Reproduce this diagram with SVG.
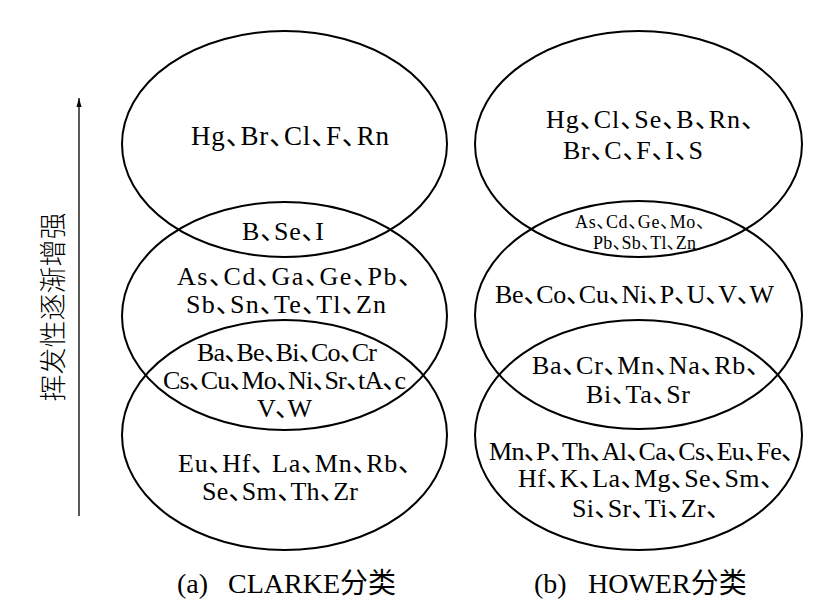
<svg xmlns="http://www.w3.org/2000/svg" width="830" height="613" viewBox="0 0 830 613">
<style>
.e{fill:none;stroke:#000;stroke-width:2}
.t{font-family:"Liberation Serif","Times New Roman",Times,"DejaVu Serif","Noto Sans CJK SC",serif;font-size:26px;fill:#000}
.s{font-size:18px}
.cap{font-size:28px}
.c{letter-spacing:-13px}
.s .c{letter-spacing:-9px}
.v{font-family:"Noto Sans CJK SC","Noto Sans CJK JP",sans-serif;font-size:27px;font-weight:300;fill:#000}
.ax{stroke:#000;stroke-width:1.3;fill:none}
</style>
<defs>
<marker id="ah" viewBox="0 0 10 10" refX="10" refY="5" markerWidth="9" markerHeight="9" markerUnits="userSpaceOnUse" orient="auto">
<path d="M0,2.2 L10,5 L0,7.8 Z" fill="#000"/>
</marker>
</defs>
<rect width="830" height="613" fill="#fff"/>

<g id="connectors">
<line class="ax" x1="79" y1="516" x2="79" y2="98" marker-end="url(#ah)"/>
</g>
<g id="axis-label">
<text class="v" transform="translate(63,307) rotate(-90)" text-anchor="middle">挥发性逐渐增强</text>
</g>

<g id="clarke-top"><ellipse class="e" cx="284.5" cy="144" rx="162.5" ry="113"/></g>
<g id="clarke-mid"><ellipse class="e" cx="284.5" cy="316" rx="162.5" ry="114"/></g>
<g id="clarke-bot"><ellipse class="e" cx="284.5" cy="435" rx="162.5" ry="115"/></g>
<g id="hower-top"><ellipse class="e" cx="638.5" cy="144" rx="163.5" ry="113"/></g>
<g id="hower-mid"><ellipse class="e" cx="638.5" cy="315" rx="163.5" ry="114"/></g>
<g id="hower-bot"><ellipse class="e" cx="638.5" cy="435" rx="163.5" ry="115"/></g>

<g id="clarke-labels" class="t" font-family="Liberation Serif, Times New Roman, DejaVu Serif, Noto Sans CJK SC, serif">
<text x="191" y="145" textLength="198" style="font-size:27px">Hg<tspan class="c">、</tspan>Br<tspan class="c">、</tspan>Cl<tspan class="c">、</tspan>F<tspan class="c">、</tspan>Rn</text>
<text x="242" y="240" textLength="82">B<tspan class="c">、</tspan>Se<tspan class="c">、</tspan>I</text>
<text x="177" y="285" textLength="234">As<tspan class="c">、</tspan>Cd<tspan class="c">、</tspan>Ga<tspan class="c">、</tspan>Ge<tspan class="c">、</tspan>Pb<tspan class="c">、</tspan></text>
<text x="186" y="313" textLength="200">Sb<tspan class="c">、</tspan>Sn<tspan class="c">、</tspan>Te<tspan class="c">、</tspan>Tl<tspan class="c">、</tspan>Zn</text>
<text x="197" y="361" textLength="180">Ba<tspan class="c">、</tspan>Be<tspan class="c">、</tspan>Bi<tspan class="c">、</tspan>Co<tspan class="c">、</tspan>Cr</text>
<text x="163" y="389" textLength="243">Cs<tspan class="c">、</tspan>Cu<tspan class="c">、</tspan>Mo<tspan class="c">、</tspan>Ni<tspan class="c">、</tspan>Sr<tspan class="c">、</tspan>tA<tspan class="c">、</tspan>c</text>
<text x="257" y="417" textLength="55">V<tspan class="c">、</tspan>W</text>
<text x="178" y="472" textLength="233">Eu<tspan class="c">、</tspan>Hf<tspan class="c">、</tspan> La<tspan class="c">、</tspan>Mn<tspan class="c">、</tspan>Rb<tspan class="c">、</tspan></text>
<text x="202" y="500" textLength="156">Se<tspan class="c">、</tspan>Sm<tspan class="c">、</tspan>Th<tspan class="c">、</tspan>Zr</text>
</g>

<g id="hower-labels" class="t">
<text x="546" y="128" textLength="208">Hg<tspan class="c">、</tspan>Cl<tspan class="c">、</tspan>Se<tspan class="c">、</tspan>B<tspan class="c">、</tspan>Rn<tspan class="c">、</tspan></text>
<text x="563" y="159" textLength="140">Br<tspan class="c">、</tspan>C<tspan class="c">、</tspan>F<tspan class="c">、</tspan>I<tspan class="c">、</tspan>S</text>
<g class="s">
<text x="575" y="228" textLength="130">As<tspan class="c">、</tspan>Cd<tspan class="c">、</tspan>Ge<tspan class="c">、</tspan>Mo<tspan class="c">、</tspan></text>
<text x="593" y="249" textLength="103">Pb<tspan class="c">、</tspan>Sb<tspan class="c">、</tspan>Tl<tspan class="c">、</tspan>Zn</text>
</g>
<text x="495" y="303" textLength="279">Be<tspan class="c">、</tspan>Co<tspan class="c">、</tspan>Cu<tspan class="c">、</tspan>Ni<tspan class="c">、</tspan>P<tspan class="c">、</tspan>U<tspan class="c">、</tspan>V<tspan class="c">、</tspan>W</text>
<text x="532" y="374" textLength="227">Ba<tspan class="c">、</tspan>Cr<tspan class="c">、</tspan>Mn<tspan class="c">、</tspan>Na<tspan class="c">、</tspan>Rb<tspan class="c">、</tspan></text>
<text x="586" y="403" textLength="104">Bi<tspan class="c">、</tspan>Ta<tspan class="c">、</tspan>Sr</text>
<text x="489" y="460" textLength="305">Mn<tspan class="c">、</tspan>P<tspan class="c">、</tspan>Th<tspan class="c">、</tspan>Al<tspan class="c">、</tspan>Ca<tspan class="c">、</tspan>Cs<tspan class="c">、</tspan>Eu<tspan class="c">、</tspan>Fe<tspan class="c">、</tspan></text>
<text x="518" y="487" textLength="255">Hf<tspan class="c">、</tspan>K<tspan class="c">、</tspan>La<tspan class="c">、</tspan>Mg<tspan class="c">、</tspan>Se<tspan class="c">、</tspan>Sm<tspan class="c">、</tspan></text>
<text x="572" y="517" textLength="147">Si<tspan class="c">、</tspan>Sr<tspan class="c">、</tspan>Ti<tspan class="c">、</tspan>Zr<tspan class="c">、</tspan></text>
</g>

<g id="captions" class="t cap">
<text y="593"><tspan x="177">(a)</tspan><tspan x="228">CLARKE分类</tspan></text>
<text y="593"><tspan x="534">(b)</tspan><tspan x="588">HOWER分类</tspan></text>
</g>
</svg>
